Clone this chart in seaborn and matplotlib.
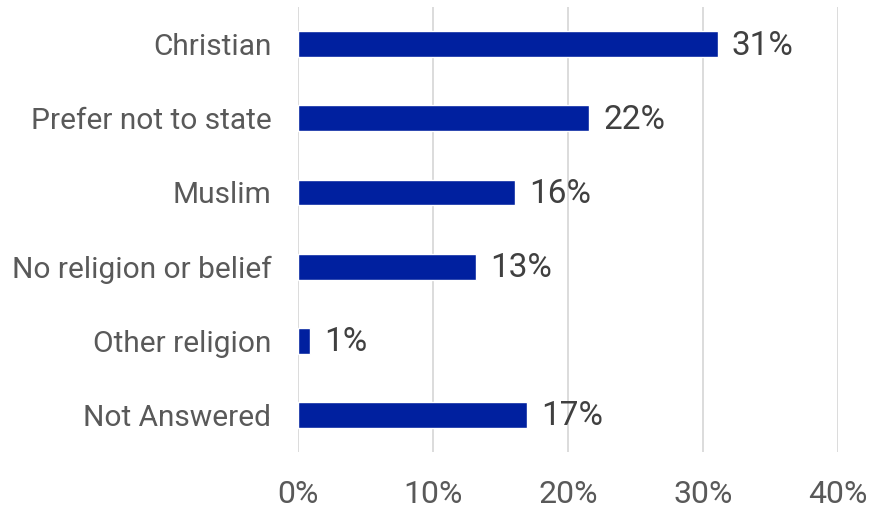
import matplotlib
matplotlib.use("Agg")
import matplotlib.pyplot as plt
import seaborn as sns
import pandas as pd
from matplotlib.ticker import PercentFormatter

# --- Data ---
categories = ["Christian", "Prefer not to state", "Muslim",
              "No religion or belief", "Other religion", "Not Answered"]
shares = [31.1, 21.6, 16.1, 13.2, 0.9, 17.0]
value_labels = ["31%", "22%", "16%", "13%", "1%", "17%"]
x_ticks = [0, 10, 20, 30, 40]

BAR_COLOR = "#00209F"
TEXT_COLOR = "#595959"
VALUE_COLOR = "#404040"
GRID_COLOR = "#D9D9D9"

sns.set_theme(style="white")
plt.rcParams["font.family"] = ["Roboto", "DejaVu Sans"]

df = pd.DataFrame({"religion": categories, "share": shares})

fig = plt.figure(figsize=(8.71, 5.09), dpi=100)
ax = fig.add_axes([0.342, 0.112, 0.620, 0.874])

sns.barplot(data=df, x="share", y="religion", color=BAR_COLOR,
            width=0.35, saturation=1, ax=ax, zorder=3)

# value labels to the right of each bar
for i, (val, lab) in enumerate(zip(shares, value_labels)):
    ax.annotate(lab, xy=(val, i), xytext=(10, -1), textcoords="offset points",
                va="center", ha="left", fontsize=24, color=VALUE_COLOR)

ax.set_xlim(0, 40)
ax.set_ylim(5.5, -0.5)
ax.set_xticks(x_ticks)
ax.xaxis.set_major_formatter(PercentFormatter(decimals=0))
ax.grid(axis="x", color=GRID_COLOR, linewidth=1.3, zorder=0)
ax.grid(axis="y", visible=False)
for spine in ax.spines.values():
    spine.set_visible(False)

ax.set_xlabel("")
ax.set_ylabel("")
ax.tick_params(axis="x", length=0, pad=20, labelsize=23, labelcolor=TEXT_COLOR)
ax.tick_params(axis="y", length=0, pad=19, labelsize=21.5, labelcolor=TEXT_COLOR)

fig.savefig("out.png", dpi=100)
